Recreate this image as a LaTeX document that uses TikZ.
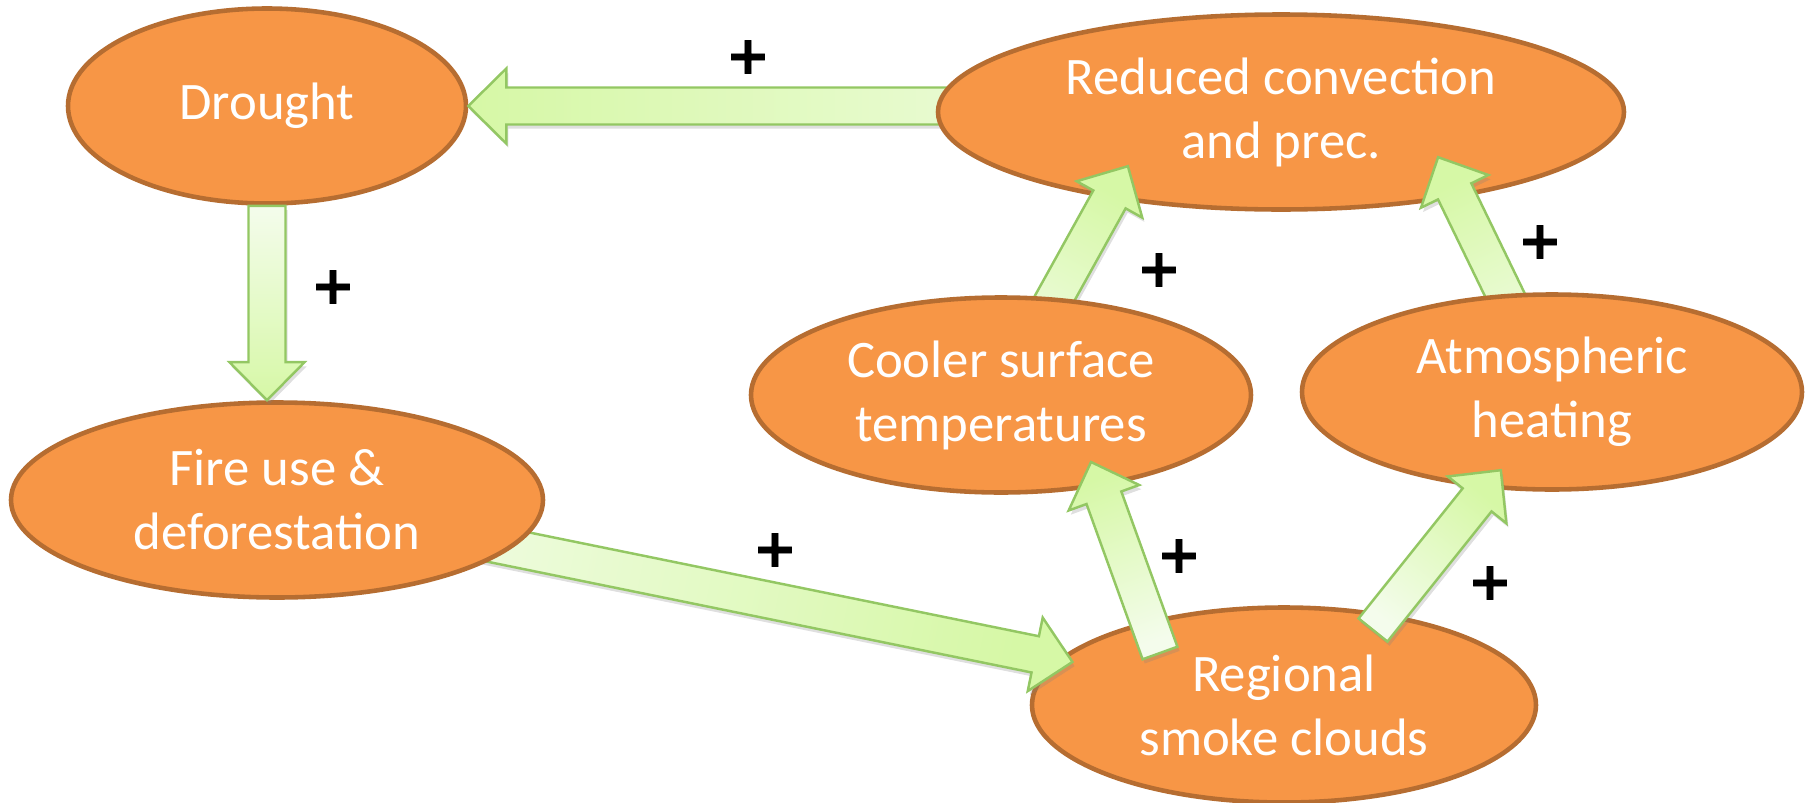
\documentclass[tikz,border=0pt]{standalone}
\usepackage{fontspec}
\setmainfont{Carlito}
\newfontfamily\plusfont[BoldFeatures={FakeBold=1.5}]{DejaVu Sans}
\usepackage{tikz}
\usetikzlibrary{shapes.geometric,calc,shadows}

\definecolor{bubblefill}{HTML}{F79646}
\definecolor{bubbleline}{HTML}{B66D31}
\definecolor{arrowhead}{HTML}{D6F8A6}
\definecolor{arrowtail}{HTML}{F4FCEC}
\definecolor{arrowline}{HTML}{93C763}

\pgfdeclarelayer{bottom}
\pgfdeclarelayer{lower}
\pgfdeclarelayer{upper}
\pgfdeclarelayer{higher}
\pgfdeclarelayer{top}
\pgfsetlayers{bottom,lower,main,upper,higher,top}

\tikzset{
  bubble/.style={ellipse, fill=bubblefill, draw=bubbleline, line width=1.3pt,
    text=white, align=center, inner sep=0pt, minimum height=1.95cm,
    font=\fontsize{15}{18.2}\selectfont},
  fatarrow/.style={draw=arrowline, line width=0.7pt, line join=miter,
    bottom color=arrowtail, top color=arrowhead,
    drop shadow={shadow xshift=0.6pt, shadow yshift=-1.2pt, opacity=0.25}},
  plussign/.style={font=\plusfont\bfseries\fontsize{15}{15}\selectfont}
}

% block arrow from #1 to #2 (coordinate names)
\newcommand{\fatarrow}[2]{%
  \pgfpointdiff{\pgfpointanchor{#1}{center}}{\pgfpointanchor{#2}{center}}%
  \pgfgetlastxy{\arrdx}{\arrdy}%
  \pgfmathsetmacro{\arrang}{atan2(\arrdy,\arrdx)}%
  \pgfmathsetmacro{\arrlen}{veclen(\arrdx,\arrdy)}%
  \pgfmathsetmacro{\shadang}{\arrang-90}%
  \draw[fatarrow, shading angle=\shadang, shift={(#1)}, rotate=\arrang]
    (0,-0.185) -- ({\arrlen pt-0.38cm},-0.185) -- ({\arrlen pt-0.38cm},-0.375)
    -- (\arrlen pt,0) -- ({\arrlen pt-0.38cm},0.375) -- ({\arrlen pt-0.38cm},0.185)
    -- (0,0.185) -- cycle;
}

\begin{document}
\begin{tikzpicture}
  \useasboundingbox (0,0) rectangle (18.06,-8.02);

  % bubbles
  \begin{pgfonlayer}{bottom}
    \node[bubble, minimum width=3.98cm] (drought) at (2.67,-1.06) {Drought};
    \node[bubble, minimum width=5.04cm] (smoke) at (12.84,-7.05) {Regional\\smoke clouds};
  \end{pgfonlayer}
  \node[bubble, minimum width=6.86cm] (reduced) at (12.81,-1.12) {Reduced convection\\and prec.};
  \node[bubble, minimum width=5.32cm] (fire) at (2.77,-5.00) {Fire use \&\\deforestation};
  \begin{pgfonlayer}{higher}
    \node[bubble, minimum width=5.00cm] (cooler) at (10.01,-3.95) {Cooler surface\\temperatures};
    \node[bubble, minimum width=5.00cm] (atmos) at (15.52,-3.92) {Atmospheric\\heating};
  \end{pgfonlayer}

  % arrow ends
  \coordinate (droughtin) at (drought.east);
  \coordinate (reducedout) at (reduced.center |- drought.east);
  \coordinate (droughtout) at (drought.south);
  \coordinate (firein) at (drought.south |- fire.north);
  \coordinate (smokein) at ($(fire.center)!0.79!(smoke.center)$);
  \coordinate (reducedin1) at ($(reduced.center)+(-1.53,-0.54)$);
  \coordinate (reducedin2) at ($(reduced.center)+(1.57,-0.45)$);
  \coordinate (smokeout1) at ($(smoke.center)+(-1.24,0.52)$);
  \coordinate (coolerin) at ($(cooler.center)+(0.90,-0.67)$);
  \coordinate (smokeout2) at ($(smoke.center)+(0.89,0.75)$);
  \coordinate (atmosin) at ($(atmos.center)+(-0.51,-0.78)$);

  \begin{pgfonlayer}{lower}
    \fatarrow{reducedout}{droughtin}
    \fatarrow{fire}{smokein}
  \end{pgfonlayer}
  \begin{pgfonlayer}{upper}
    \fatarrow{droughtout}{firein}
    \fatarrow{cooler}{reducedin1}
    \fatarrow{atmos}{reducedin2}
  \end{pgfonlayer}
  \begin{pgfonlayer}{top}
    \fatarrow{smokeout1}{coolerin}
    \fatarrow{smokeout2}{atmosin}
  \end{pgfonlayer}

  % signs
  \node[plussign] (p1) at (7.48,-0.57) {+};
  \node[plussign] (p2) at (3.33,-2.87) {+};
  \node[plussign] (p3) at (11.59,-2.70) {+};
  \node[plussign] (p4) at (15.40,-2.42) {+};
  \node[plussign] (p5) at (7.75,-5.50) {+};
  \node[plussign] (p6) at (11.79,-5.56) {+};
  \node[plussign] (p7) at (14.90,-5.83) {+};
\end{tikzpicture}
\end{document}
